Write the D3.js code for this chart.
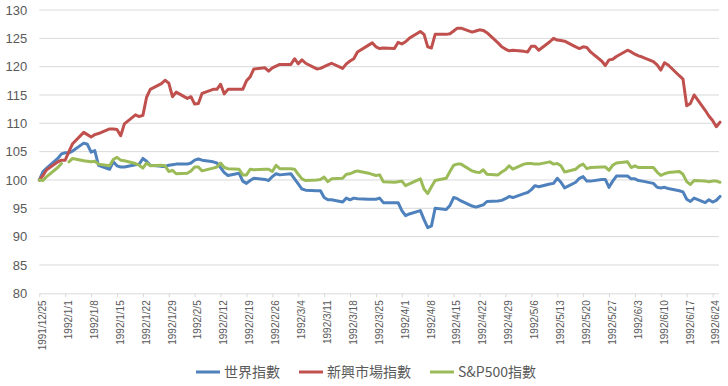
<!DOCTYPE html>
<html><head><meta charset="utf-8">
<script src="https://cdn.jsdelivr.net/npm/d3@7"></script>
<style>body{margin:0;background:#fff}svg{display:block}</style>
</head><body>
<svg id="c" width="728" height="386"></svg>
<script>
const dates = [
"1991/12/25","1991/12/26","1991/12/27","1991/12/30","1991/12/31","1992/1/1","1992/1/2","1992/1/3",
"1992/1/6","1992/1/7","1992/1/8","1992/1/9","1992/1/10",
"1992/1/13","1992/1/14","1992/1/15","1992/1/16","1992/1/17",
"1992/1/20","1992/1/21","1992/1/22","1992/1/23","1992/1/24",
"1992/1/27","1992/1/28","1992/1/29","1992/1/30","1992/1/31",
"1992/2/3","1992/2/4","1992/2/5","1992/2/6","1992/2/7",
"1992/2/10","1992/2/11","1992/2/12","1992/2/13","1992/2/14",
"1992/2/17","1992/2/18","1992/2/19","1992/2/20","1992/2/21",
"1992/2/24","1992/2/25","1992/2/26","1992/2/27","1992/2/28",
"1992/3/2","1992/3/3","1992/3/4","1992/3/5","1992/3/6",
"1992/3/9","1992/3/10","1992/3/11","1992/3/12","1992/3/13",
"1992/3/16","1992/3/17","1992/3/18","1992/3/19","1992/3/20",
"1992/3/23","1992/3/24","1992/3/25","1992/3/26","1992/3/27",
"1992/3/30","1992/3/31","1992/4/1","1992/4/2","1992/4/3",
"1992/4/6","1992/4/7","1992/4/8","1992/4/9","1992/4/10",
"1992/4/13","1992/4/14","1992/4/15","1992/4/16","1992/4/17",
"1992/4/20","1992/4/21","1992/4/22","1992/4/23","1992/4/24",
"1992/4/27","1992/4/28","1992/4/29","1992/4/30","1992/5/1",
"1992/5/4","1992/5/5","1992/5/6","1992/5/7","1992/5/8",
"1992/5/11","1992/5/12","1992/5/13","1992/5/14","1992/5/15",
"1992/5/18","1992/5/19","1992/5/20","1992/5/21","1992/5/22",
"1992/5/25","1992/5/26","1992/5/27","1992/5/28","1992/5/29",
"1992/6/1","1992/6/2","1992/6/3","1992/6/4","1992/6/5",
"1992/6/8","1992/6/9","1992/6/10","1992/6/11","1992/6/12",
"1992/6/15","1992/6/16","1992/6/17","1992/6/18","1992/6/19",
"1992/6/22","1992/6/23","1992/6/24","1992/6/25","1992/6/26"];

const worldIndex = [
100,101.5,102.1, 103.8,104.6,104.8,104.8,105.1,
106.5,106.3,104.9,105.2,102.6,
101.9,103.2,102.5,102.3,102.3,
102.7,102.8,103.8,103.3,102.6,
102.4,102.4,102.6,102.7,102.8,
102.8,103.0,103.5,103.7,103.5,
103.2,103.0,102.2,101.3,100.8,
101.2,99.8,99.4,99.9,100.3,
100.1,99.9,100.6,101.1,100.9,
101.1,100.2,99.3,98.4,98.2,
98.1,98.1,96.9,96.5,96.5,
96.1,96.8,96.5,96.8,96.7,
96.6,96.6,96.6,96.8,96.0,
96.0,96.0,94.6,93.7,94.0,
94.6,93.0,91.6,91.9,95.0,
94.8,95.5,96.9,96.7,96.3,
95.4,95.2,95.4,95.6,96.2,
96.3,96.4,96.7,97.1,96.9,
97.6,97.8,98.3,99.0,98.8,
99.3,99.4,100.3,99.6,98.6,
99.6,100.3,100.6,99.8,99.8,
100.1,100.1,98.7,99.8,100.7,
100.7,100.2,100.2,99.9,99.8,
99.4,98.7,98.6,98.7,98.5,
98.1,97.9,96.6,96.2,96.8,
96.0,96.5,96.1,96.4,97.1];

const emIndex = [
100,100.8,101.8, 103.2,103.5,103.5,105.0,106.4,
108.4,108.0,107.6,108.0,108.2,
109.0,109.0,108.9,107.8,109.9,
111.5,111.2,111.4,114.6,116.0,
117.0,117.6,117.1,114.7,115.5,
114.4,114.7,113.4,113.5,115.3,
116.0,116.0,116.9,115.2,116.0,
116.0,116.0,117.5,118.2,119.6,
119.8,119.2,119.8,120.1,120.4,
120.4,121.4,120.5,121.2,120.6,
119.6,119.7,120.0,120.3,120.6,
119.7,120.5,121.0,121.4,122.6,
123.8,124.2,123.5,123.2,123.3,
123.2,124.3,124.0,124.4,125.0,
126.2,125.7,123.5,123.3,125.7,
125.7,125.8,126.3,126.8,126.8,
126.1,126.3,126.5,126.4,126.0,
124.2,123.5,123.1,122.8,122.9,
122.7,122.6,123.6,123.6,122.9,
124.4,125.0,124.7,124.6,124.5,
123.5,123.2,123.5,123.4,122.6,
121.0,120.2,121.2,121.3,121.8,
122.9,122.6,122.2,121.9,121.7,
120.9,120.3,119.4,120.7,120.3,
118.4,117.8,113.1,113.5,115.0,
112.3,111.3,110.5,109.4,110.2];

const sp500Index = [
100,99.9,100.6, 102.2,102.9,null,103.2,103.8,
103.4,103.3,103.2,103.3,102.8,
102.5,103.6,104.0,103.5,103.4,
102.9,102.6,102.1,103.0,102.5,
102.6,102.5,101.5,101.7,101.1,
101.2,101.6,102.3,102.3,101.6,
102.1,102.3,103.0,102.2,102.0,
101.9,100.9,100.9,101.9,101.8,
101.9,101.9,101.5,102.6,102.0,
102.0,101.9,101.0,100.2,99.9,
100.0,100.1,100.5,99.7,100.2,
100.3,101.0,101.1,101.4,101.6,
101.2,101.0,100.8,100.9,99.7,
99.6,99.7,99.8,99.0,99.3,
100.2,98.4,97.6,98.8,99.9,
100.3,101.5,102.6,102.8,102.8,
101.6,101.4,101.3,101.8,101.0,
100.9,101.4,101.8,102.5,101.9,
102.8,102.9,102.9,102.8,102.8,
103.2,102.8,102.9,102.5,101.4,
101.9,102.5,102.8,102.0,102.2,
102.3,102.3,101.7,102.6,103.0,
103.2,102.2,102.5,102.2,102.2,
102.2,101.4,100.8,101.1,101.3,
101.5,101.0,99.7,99.2,99.9,
99.8,99.7,99.8,99.8,99.6];

const tickLabels = ["1991/12/25","1992/1/1","1992/1/8","1992/1/15","1992/1/22","1992/1/29","1992/2/5",
"1992/2/12","1992/2/19","1992/2/26","1992/3/4","1992/3/11","1992/3/18","1992/3/25","1992/4/1",
"1992/4/8","1992/4/15","1992/4/22","1992/4/29","1992/5/6","1992/5/13","1992/5/20","1992/5/27",
"1992/6/3","1992/6/10","1992/6/17","1992/6/24"];
const yTicks = [80,85,90,95,100,105,110,115,120,125,130];
const seriesNames = ["世界指數","新興市場指數","S&P500指數"];
const seriesColors = ["#4F81BD","#C0504D","#9BBB59"];

const parse = d3.utcParse("%Y/%m/%d");
const fmt = d => `${d.getUTCFullYear()}/${d.getUTCMonth()+1}/${d.getUTCDate()}`;
const svg = d3.select("#c");
const L = 39.3, R = 720, T = 10, B = 293.3;
const x = d3.scaleUtc().domain([parse(dates[0]), parse(dates[dates.length-1])]).range([L, R]);
const y = d3.scaleLinear().domain([80,130]).range([B, T]);
const tickFont = "'Liberation Sans', Arial, sans-serif";
const cjkFont = "'Noto Sans CJK TC','Noto Sans CJK SC', sans-serif";

// gridlines
svg.append("g").selectAll("line").data(yTicks.filter(v => v > 80)).join("line")
  .attr("x1", L).attr("x2", 719).attr("y1", d => y(d)).attr("y2", d => y(d))
  .attr("stroke", "#d9d9d9").attr("stroke-width", 1);

// y axis labels
const yAxis = d3.axisLeft(y).tickValues(yTicks).tickSize(0).tickPadding(12);
const gy = svg.append("g").attr("transform", `translate(${L},0)`).call(yAxis);
gy.select(".domain").remove();
gy.selectAll("text").attr("fill", "#595959").style("font-family", tickFont).style("font-size", "13px");

// x axis
const xAxis = d3.axisBottom(x).tickValues(tickLabels.map(parse)).tickFormat(fmt).tickSize(4).tickSizeOuter(0);
const gx = svg.append("g").attr("transform", `translate(0,${B})`).call(xAxis);
gx.select(".domain").attr("stroke", "#d9d9d9").attr("d", `M${L},0.5H719`);
gx.selectAll(".tick line").attr("stroke", "#d9d9d9");
gx.selectAll(".tick text")
  .attr("fill", "#595959").style("font-family", tickFont).style("font-size", "10px")
  .attr("text-anchor", "end").attr("transform", "translate(2.8,7) rotate(-90)")
  .attr("x", 0).attr("y", 0).attr("dy", "0.35em");

// lines
const allSeries = [worldIndex, emIndex, sp500Index];
const line = d3.line().defined(d => d.v != null).x(d => x(d.t)).y(d => y(d.v));
allSeries.forEach((vals, i) => {
  const pts = dates.map((s, k) => ({t: parse(s), v: vals[k]}));
  svg.append("path").datum(pts).attr("d", line).attr("fill", "none")
    .attr("stroke", seriesColors[i]).attr("stroke-width", 3)
    .attr("stroke-linejoin", "round").attr("stroke-linecap", "round");
});

// legend
const lg = svg.append("g");
let cx = 0;
seriesNames.forEach((n, i) => {
  const g = lg.append("g").attr("transform", `translate(${cx},0)`);
  g.append("line").attr("x1", 0).attr("x2", 24).attr("y1", 0).attr("y2", 0)
    .attr("stroke", seriesColors[i]).attr("stroke-width", 3);
  const t = g.append("text").attr("x", 28).attr("y", 0).attr("dy", "0.35em").text(n)
    .attr("fill", "#595959").style("font-family", cjkFont).style("font-size", "14px");
  cx += 28 + t.node().getComputedTextLength() + 19;
});
const totalW = cx - 19;
lg.attr("transform", `translate(${366 - totalW/2},372)`);
</script>
</body></html>
